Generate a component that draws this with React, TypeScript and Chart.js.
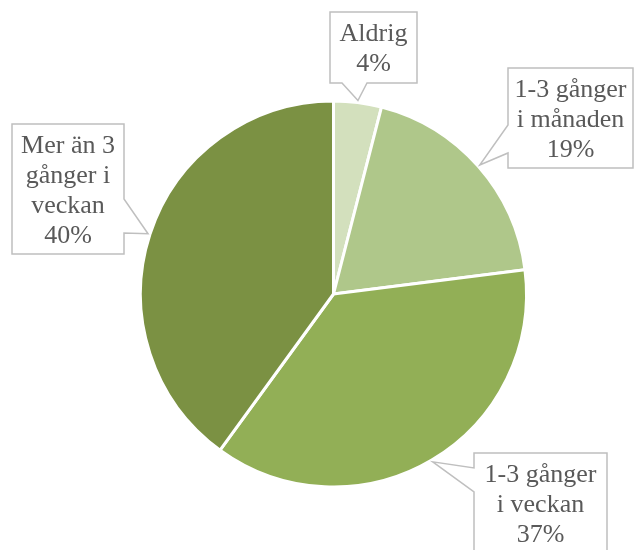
import React, { useEffect, useRef } from "react";
import { Chart, registerables } from "chart.js";

Chart.register(...registerables);

const categories = ["Aldrig", "1-3 gånger i månaden", "1-3 gånger i veckan", "Mer än 3 gånger i veckan"];
const values = [4, 19, 37, 40];
const labelLines = [["Aldrig"], ["1-3 gånger", "i månaden"], ["1-3 gånger", "i veckan"], ["Mer än 3", "gånger i", "veckan"]];
const colors = ["#D3E0BD", "#AFC78A", "#92AF56", "#7B9143"];

type Callout = { x: number; y: number; w: number; h: number; side: string; b0: number; b1: number };
const callouts: Callout[] = [
  { x: 330, y: 12, w: 87, h: 71, side: "bottom", b0: 342, b1: 367 },
  { x: 508, y: 68, w: 125, h: 100, side: "left", b0: 125, b1: 153 },
  { x: 474, y: 453, w: 133, h: 100, side: "left", b0: 468, b1: 492 },
  { x: 12, y: 124, w: 112, h: 130, side: "right", b0: 199, b1: 233 },
];

const calloutPlugin = {
  id: "callouts",
  afterDraw(chart: any) {
    const ctx = chart.ctx as CanvasRenderingContext2D;
    const meta = chart.getDatasetMeta(0);
    const data = chart.data.datasets[0].data as number[];
    const total = data.reduce((a, b) => a + b, 0);
    ctx.save();
    meta.data.forEach((arc: any, i: number) => {
      const p = arc.getProps(["x", "y", "startAngle", "endAngle", "outerRadius"], true);
      const mid = (p.startAngle + p.endAngle) / 2;
      const tx = p.x + Math.cos(mid) * (p.outerRadius + 2);
      const ty = p.y + Math.sin(mid) * (p.outerRadius + 2);
      const c = callouts[i];
      const { x, y, w, h } = c;
      ctx.beginPath();
      ctx.moveTo(x, y);
      ctx.lineTo(x + w, y);
      if (c.side === "right") {
        ctx.lineTo(x + w, c.b0);
        ctx.lineTo(tx, ty);
        ctx.lineTo(x + w, c.b1);
      }
      ctx.lineTo(x + w, y + h);
      if (c.side === "bottom") {
        ctx.lineTo(c.b1, y + h);
        ctx.lineTo(tx, ty);
        ctx.lineTo(c.b0, y + h);
      }
      ctx.lineTo(x, y + h);
      if (c.side === "left") {
        ctx.lineTo(x, c.b1);
        ctx.lineTo(tx, ty);
        ctx.lineTo(x, c.b0);
      }
      ctx.closePath();
      ctx.fillStyle = "#FFFFFF";
      ctx.fill();
      ctx.strokeStyle = "#BFBFBF";
      ctx.lineWidth = 1.5;
      ctx.stroke();

      const lines = [...labelLines[i], Math.round((data[i] / total) * 100) + "%"];
      const lh = 30;
      ctx.fillStyle = "#595959";
      ctx.font = "26px 'Liberation Serif'";
      ctx.textAlign = "center";
      ctx.textBaseline = "middle";
      const cy = y + h / 2 + 2;
      lines.forEach((t, k) => {
        ctx.fillText(t, x + w / 2, cy + (k - (lines.length - 1) / 2) * lh);
      });
    });
    ctx.restore();
  },
};

export default function App() {
  const ref = useRef<HTMLCanvasElement | null>(null);
  useEffect(() => {
    document.body.style.margin = "0";
    const chart = new Chart(ref.current as HTMLCanvasElement, {
      type: "pie",
      data: {
        labels: categories,
        datasets: [
          {
            data: values,
            backgroundColor: colors,
            borderColor: "#FFFFFF",
            borderWidth: 3,
          },
        ],
      },
      options: {
        responsive: false,
        animation: false,
        layout: { padding: { left: 139, top: 99, right: 109, bottom: 61 } },
        plugins: { legend: { display: false }, tooltip: { enabled: false } },
      },
      plugins: [calloutPlugin],
    });
    return () => chart.destroy();
  }, []);
  return (
    <div style={{ width: 637, height: 550, background: "#FFFFFF" }}>
      <canvas ref={ref} width={637} height={550} />
    </div>
  );
}
